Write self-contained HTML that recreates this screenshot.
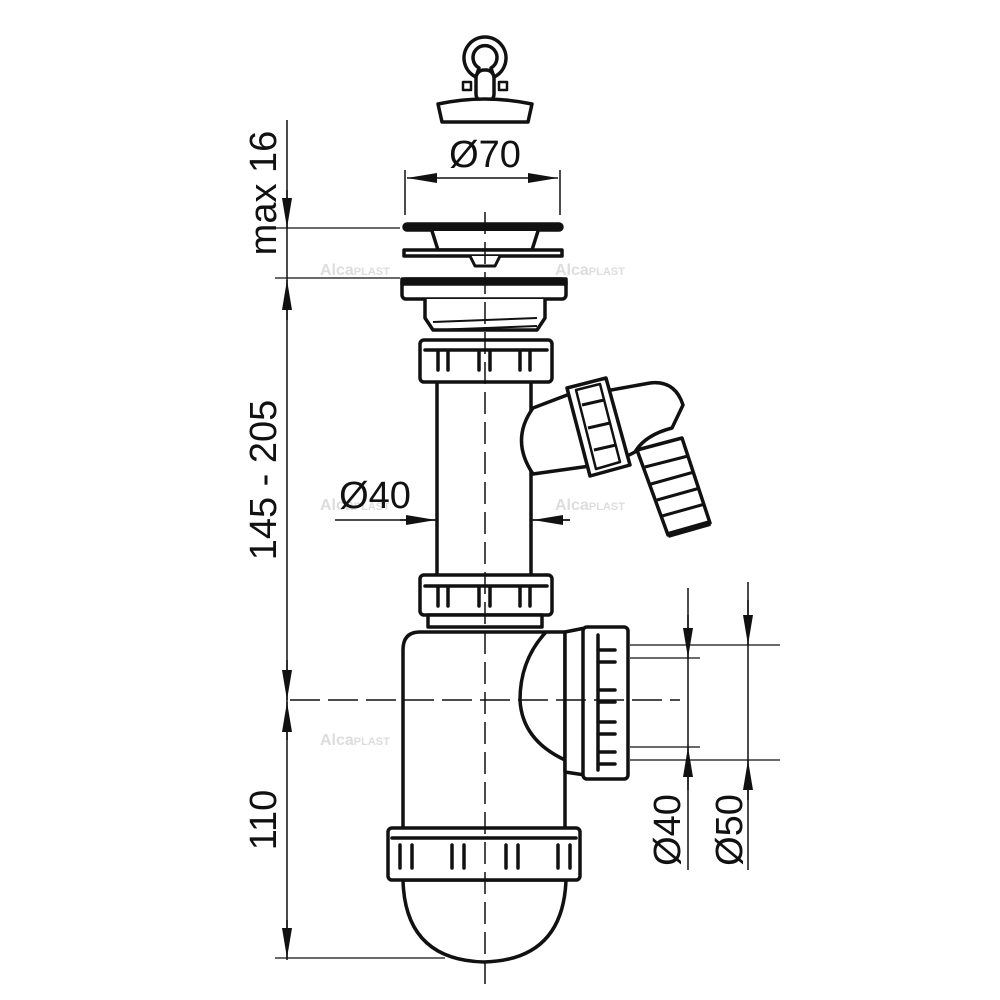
<!DOCTYPE html>
<html><head><style>body{margin:0;background:#fff}svg{display:block}</style></head><body>
<svg width="1000" height="1000" viewBox="0 0 1000 1000" xmlns="http://www.w3.org/2000/svg" font-family="Liberation Sans, sans-serif">
<defs>
<marker id="a" viewBox="0 0 30 10" refX="30" refY="5" markerWidth="30" markerHeight="10" orient="auto-start-reverse" markerUnits="userSpaceOnUse"><path d="M0,0L30,5L0,10z" fill="#111"/></marker>
</defs>
<g fill="#ddd" font-size="16" font-weight="bold">
<text x="320" y="275">Alca<tspan font-size="11">PLAST</tspan></text>
<text x="555" y="275">Alca<tspan font-size="11">PLAST</tspan></text>
<text x="320" y="510">Alca<tspan font-size="11">PLAST</tspan></text>
<text x="555" y="510">Alca<tspan font-size="11">PLAST</tspan></text>
<text x="320" y="745">Alca<tspan font-size="11">PLAST</tspan></text>
<text x="555" y="745">Alca<tspan font-size="11">PLAST</tspan></text>
</g>
<g stroke="#111" fill="none">
<line x1="287" y1="120" x2="287" y2="960" stroke-width="1.5"/>
<line x1="287" y1="190" x2="287" y2="228" stroke-width="1.5" marker-end="url(#a)"/>
<line x1="287" y1="320" x2="287" y2="280" stroke-width="1.5" marker-end="url(#a)"/>
<line x1="287" y1="660" x2="287" y2="700" stroke-width="1.5" marker-end="url(#a)"/>
<line x1="287" y1="740" x2="287" y2="702" stroke-width="1.5" marker-end="url(#a)"/>
<line x1="287" y1="920" x2="287" y2="958" stroke-width="1.5" marker-end="url(#a)"/>
<line x1="275" y1="228" x2="400" y2="228" stroke-width="1.3"/>
<line x1="275" y1="278" x2="400" y2="278" stroke-width="1.3"/>
<line x1="275" y1="958" x2="445" y2="958" stroke-width="1.3"/>
<line x1="405" y1="170" x2="405" y2="215" stroke-width="1.5"/>
<line x1="560" y1="170" x2="560" y2="215" stroke-width="1.5"/>
<line x1="445" y1="178" x2="407" y2="178" stroke-width="1.5" marker-end="url(#a)"/>
<line x1="520" y1="178" x2="558" y2="178" stroke-width="1.5" marker-end="url(#a)"/>
<line x1="445" y1="178" x2="520" y2="178" stroke-width="1.5"/>
<line x1="335" y1="520" x2="570" y2="520" stroke-width="1.5"/>
<line x1="400" y1="520" x2="436" y2="520" stroke-width="1.5" marker-end="url(#a)"/>
<line x1="570" y1="520" x2="533" y2="520" stroke-width="1.5" marker-end="url(#a)"/>
<line x1="688" y1="588" x2="688" y2="870" stroke-width="1.5"/>
<line x1="748" y1="582" x2="748" y2="870" stroke-width="1.5"/>
<line x1="688" y1="615" x2="688" y2="658" stroke-width="1.5" marker-end="url(#a)"/>
<line x1="688" y1="790" x2="688" y2="747" stroke-width="1.5" marker-end="url(#a)"/>
<line x1="748" y1="600" x2="748" y2="645" stroke-width="1.5" marker-end="url(#a)"/>
<line x1="748" y1="800" x2="748" y2="760" stroke-width="1.5" marker-end="url(#a)"/>
<line x1="630" y1="645" x2="780" y2="645" stroke-width="1.3"/>
<line x1="630" y1="658" x2="700" y2="658" stroke-width="1.3"/>
<line x1="630" y1="747" x2="700" y2="747" stroke-width="1.3"/>
<line x1="630" y1="760" x2="780" y2="760" stroke-width="1.3"/>
</g>
<g stroke="#111" stroke-width="3.5" fill="#fff" stroke-linejoin="round">
<rect x="463" y="82" width="8" height="8" stroke-width="2.5"/>
<rect x="499" y="82" width="8" height="8" stroke-width="2.5"/>
<path d="M476,77 A21,21 0 1 1 494,77 L491,68 A12,12 0 1 0 479,68 Z"/>
<rect x="476" y="70" width="18" height="32" rx="8"/>
<path d="M438,104 Q485,94 532,104 L528,122 L442,122 Z"/>
<rect x="404" y="224" width="158" height="6" rx="3" fill="#111"/>
<path d="M432,231 L438,250 L532,250 L538,231" />
<rect x="404" y="250" width="158" height="6"/>
<path d="M470,256 L475,266 L495,266 L500,256" stroke-width="3"/>
<rect x="402" y="279" width="164" height="20" rx="4"/>
<rect x="402" y="279" width="164" height="5" fill="#111"/>
<path d="M425,299 L425,318 L433,330 L537,330 L545,318 L545,299"/>
<path d="M433,322 L537,318 M433,330 L537,326" stroke-width="2"/>
<rect x="437" y="380" width="94" height="200"/>
<path d="M533,408 L575,392 L590,466 L533,474 Q510,440 533,408 Z"/>
<path d="M637,450 L682,438 L710,523 L668,535 Z"/>
<path d="M645,467 L688,456 M651,484 L694,472 M657,500 L700,488 M662,516 L705,504" stroke-width="3"/>
<path d="M668,535 L710,523" stroke-width="6"/>
<path d="M600,392 L650,383 Q675,380 683,405 L672,428 Q645,435 635,452 L604,468 Z"/>
<path d="M567,388 L606,378 L630,465 L590,476 Z"/>
<path d="M576,390 L600,384 L620,462 L596,469 Z" stroke-width="2.5"/>
<path d="M582,405 L604,400 M588,428 L610,423 M594,450 L616,445" stroke-width="3"/>
<rect x="420" y="340" width="132" height="42" rx="4"/>
<rect x="420" y="575" width="132" height="40" rx="4"/>
<rect x="428" y="615" width="114" height="12"/>
<path d="M403,650 Q403,632 420,632 L565,632 L565,830 L403,830 Z"/>
<path d="M546,632 Q520,660 520,700 Q522,740 565,760" fill="none"/>
<path d="M565,632 L585,628 L585,775 L565,772 Z"/>
<rect x="583" y="627" width="45" height="152" rx="4"/>
<path d="M403,880 Q405,960 484,962 Q563,960 566,880 Z"/>
<rect x="388" y="828" width="192" height="52" rx="4"/>
</g>
<g stroke="#111" stroke-width="3.5" fill="none" stroke-linecap="round">
<path d="M438,350 L438,370 M448,350 L448,370 M479,350 L479,370 M490,350 L490,370 M520,350 L520,370 M530,350 L530,370 M425,350 L547,350"/>
<path d="M438,586 L438,606 M448,586 L448,606 M479,586 L479,606 M490,586 L490,606 M520,586 L520,606 M530,586 L530,606 M425,586 L547,586"/>
<path d="M400,845 L400,868 M412,845 L412,868 M452,845 L452,868 M464,845 L464,868 M506,845 L506,868 M518,845 L518,868 M558,845 L558,868 M570,845 L570,868 M392,838 L576,838"/>
<path d="M598,635 L598,770 M598,650 L615,650 M598,662 L615,662 M598,690 L615,690 M598,702 L615,702 M598,722 L615,722 M598,734 L615,734 M598,752 L615,752 M598,764 L615,764"/>
</g>
<g stroke="#111" fill="none" stroke-width="1.5">
<line x1="485" y1="212" x2="485" y2="985" stroke-dasharray="22,8"/>
<line x1="290" y1="700" x2="680" y2="700" stroke-dasharray="30,8"/>
</g>
<g fill="#111" font-size="38">
<text x="485" y="167" text-anchor="middle">Ø70</text>
<text x="375" y="508" text-anchor="middle">Ø40</text>
<text transform="translate(276,193) rotate(-90)" text-anchor="middle">max 16</text>
<text transform="translate(276,480) rotate(-90)" text-anchor="middle">145 - 205</text>
<text transform="translate(276,820) rotate(-90)" text-anchor="middle">110</text>
<text transform="translate(680,830) rotate(-90)" text-anchor="middle">Ø40</text>
<text transform="translate(742,830) rotate(-90)" text-anchor="middle">Ø50</text>
</g>
</svg>
</body></html>
